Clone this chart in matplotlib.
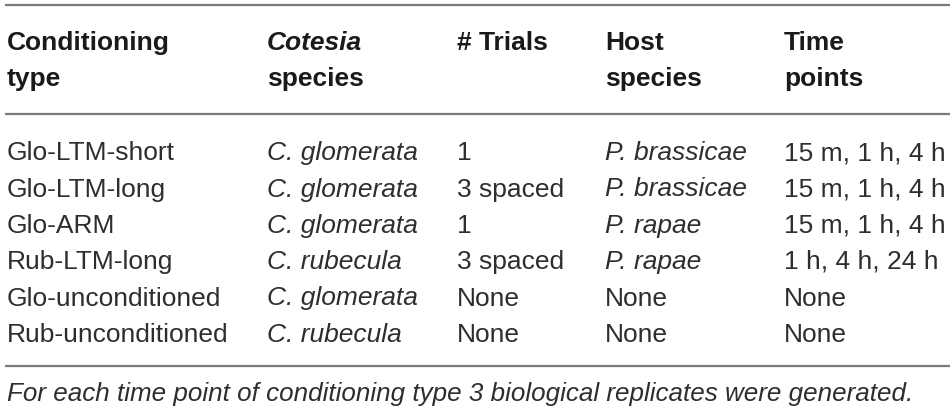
import matplotlib
matplotlib.use("Agg")
import matplotlib.pyplot as plt

header_line1 = ["Conditioning", "Cotesia", "# Trials", "Host", "Time"]
header_line2 = ["type", "species", "", "species", "points"]
header_italic = [False, True, False, False, False]

cond_type = ["Glo-LTM-short", "Glo-LTM-long", "Glo-ARM", "Rub-LTM-long",
             "Glo-unconditioned", "Rub-unconditioned"]
cotesia = ["C. glomerata", "C. glomerata", "C. glomerata", "C. rubecula",
           "C. glomerata", "C. rubecula"]
trials = ["1", "3 spaced", "1", "3 spaced", "None", "None"]
host = ["P. brassicae", "P. brassicae", "P. rapae", "P. rapae", "None", "None"]
time_points = ["15 m, 1 h, 4 h", "15 m, 1 h, 4 h", "15 m, 1 h, 4 h",
               "1 h, 4 h, 24 h", "None", "None"]
footnote = "For each time point of conditioning type 3 biological replicates were generated."

columns = [cond_type, cotesia, trials, host, time_points]
# species names are italic, but "None" is not
italic_cells = [[False] * 6,
                [True] * 6,
                [False] * 6,
                [v != "None" for v in host],
                [False] * 6]

col_x = [7, 267, 457, 605, 784]
W, H = 950, 407

plt.rcParams['font.family'] = ['Liberation Sans', 'DejaVu Sans']

fig = plt.figure(figsize=(W / 100, H / 100), dpi=100)
ax = fig.add_axes([0, 0, 1, 1])
ax.set_xlim(0, W)
ax.set_ylim(H, 0)
ax.axis('off')

line_col = "#7a7a7a"
for y in [4.5, 114, 366]:
    ax.plot([5, W], [y, y], color=line_col, lw=1.6, solid_capstyle='butt')

fs = 19
for x, t1, t2, it in zip(col_x, header_line1, header_line2, header_italic):
    ax.text(x, 50, t1, fontsize=fs, fontweight='bold', color="#1a1a1a",
            style='italic' if it else 'normal', va='baseline', ha='left')
    if t2:
        ax.text(x, 86, t2, fontsize=fs, fontweight='bold', color="#1a1a1a",
                va='baseline', ha='left')

row_base = [160, 196.5, 233, 269, 305.5, 342]
for x, col, its in zip(col_x, columns, italic_cells):
    for yb, val, it in zip(row_base, col, its):
        ax.text(x, yb, val, fontsize=fs, color="#2e2e2e",
                style='italic' if it else 'normal', va='baseline', ha='left')

ax.text(7, 401, footnote, fontsize=18.7, style='italic', color="#2e2e2e",
        va='baseline', ha='left')

fig.savefig("out.png", dpi=100)
